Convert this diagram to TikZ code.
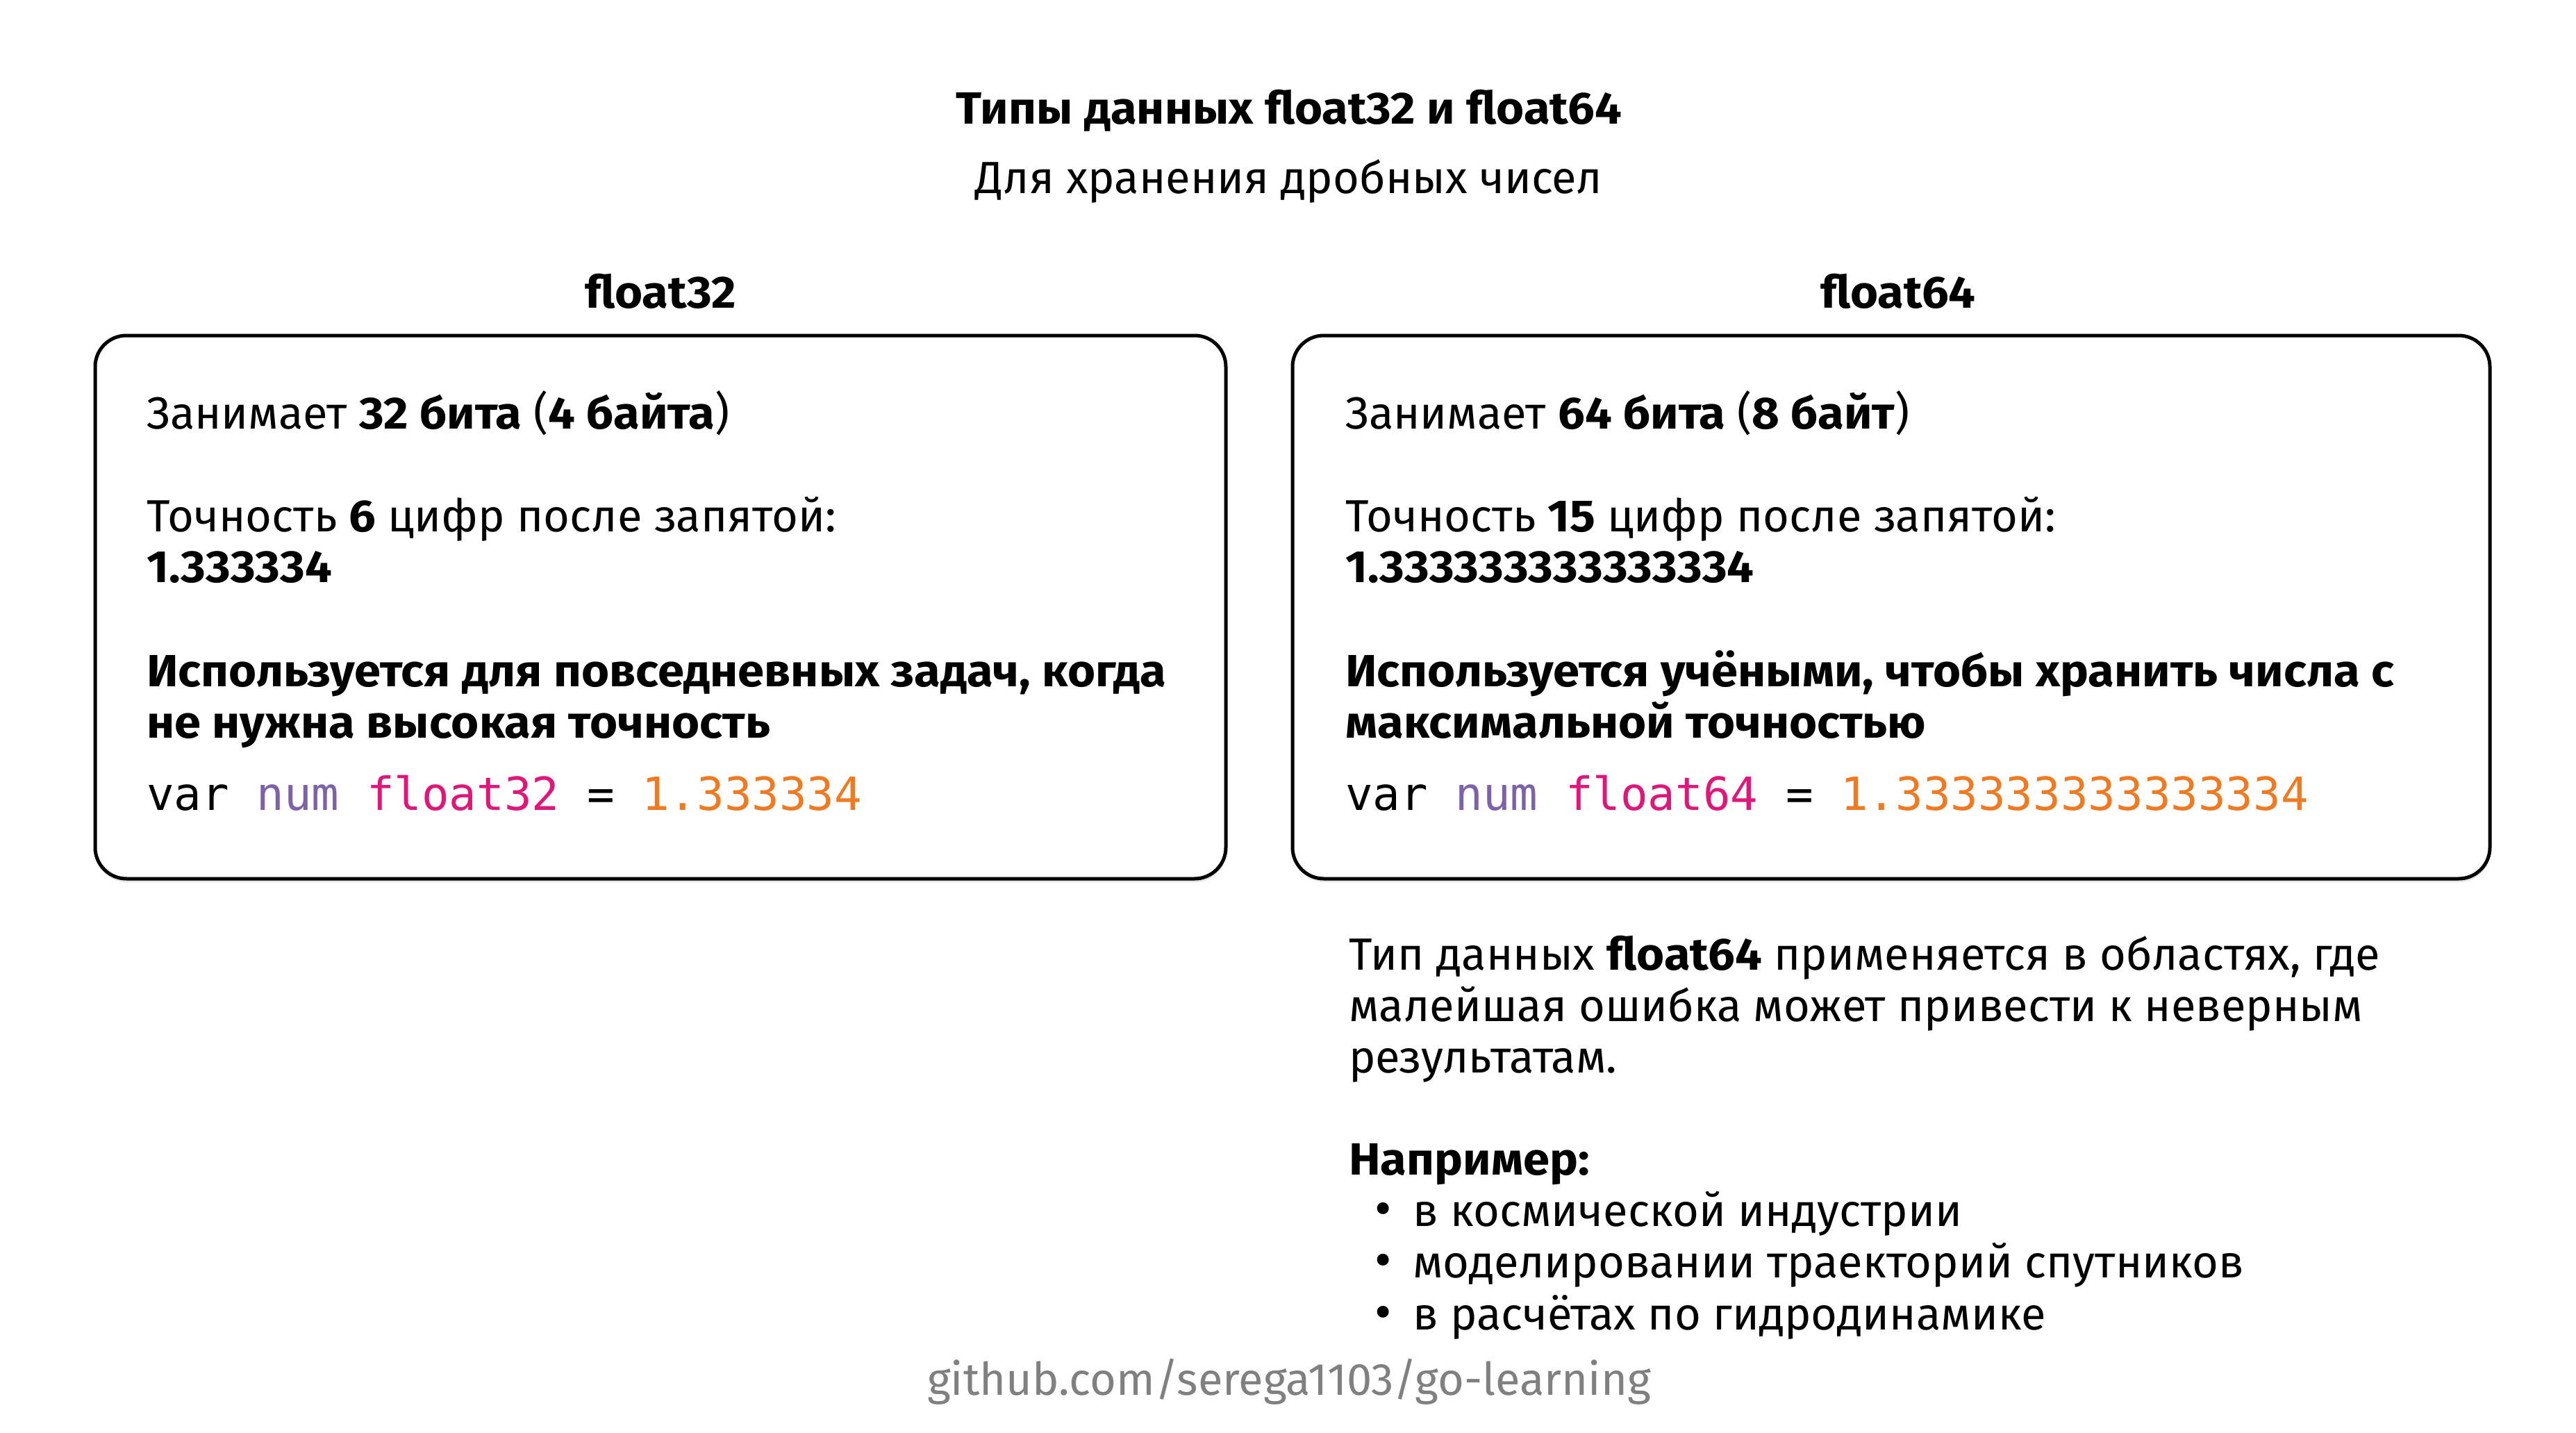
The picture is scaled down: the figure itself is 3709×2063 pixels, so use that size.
\documentclass[tikz,border=0pt]{standalone}
\usepackage{fontspec}
\setmainfont{Fira Sans}[BoldFeatures={FakeStretch=1.057}]
\setmonofont{DejaVu Sans Mono}
\usetikzlibrary{shadows}
\definecolor{kwpurple}{HTML}{7D62AA}
\definecolor{kwpink}{HTML}{E0177A}
\definecolor{kworange}{HTML}{F07A22}
\definecolor{footgray}{HTML}{808080}
\begin{document}
\begin{tikzpicture}[x=1pt,y=-1pt,
  txt/.style={anchor=base west, inner sep=0pt, font=\fontsize{65}{73}\selectfont},
  code/.style={anchor=base west, inner sep=0pt, font=\fontsize{65.8}{73}\selectfont\ttfamily},
  head/.style={anchor=base, inner sep=0pt, font=\fontsize{65}{80}\selectfont\bfseries},
  panel/.style={draw=black, line width=5pt, rounded corners=45pt, fill=white,
    drop shadow={shadow xshift=1pt, shadow yshift=-5pt, opacity=0.2}},
  bul/.style={anchor=base, inner sep=0pt, font=\fontsize{75}{73}\selectfont}]
\useasboundingbox (0,0) rectangle (3709,2063);
\fill[white] (0,0) rectangle (3709,2063);

\node[head] (title) at (1856,179) {Типы данных float32 и float64};
\node[anchor=base, inner sep=0pt, font=\fontsize{65}{80}\selectfont] (subtitle) at (1856,278) {Для хранения дробных чисел};

\node[head] (h32) at (951,443) {float32};
\node[head] (h64) at (2733,443) {float64};

\draw[panel] (137,483) rectangle (1765,1265);
\draw[panel] (1861,483) rectangle (3585,1265);

% left box
\node[txt] (l1) at (211,617) {Занимает \textbf{32 бита} (\textbf{4 байта})};
\node[txt] (l2) at (211,765) {Точность \textbf{6} цифр после запятой:};
\node[txt] (l3) at (211,838) {\textbf{1.333334}};
\node[txt] (l4) at (211,988) {\textbf{Используется для повседневных задач, когда}};
\node[txt] (l5) at (211,1062) {\textbf{не нужна высокая точность}};
\node[code] (l6) at (211,1166) {var \textcolor{kwpurple}{num} \textcolor{kwpink}{float32} = \textcolor{kworange}{1.333334}};

% right box
\node[txt] (r1) at (1937,617) {Занимает \textbf{64 бита} (\textbf{8 байт})};
\node[txt] (r2) at (1937,765) {Точность \textbf{15} цифр после запятой:};
\node[txt] (r3) at (1937,838) {\textbf{1.333333333333334}};
\node[txt] (r4) at (1937,988) {\textbf{Используется учёными, чтобы хранить числа с}};
\node[txt] (r5) at (1937,1062) {\textbf{максимальной точностью}};
\node[code] (r6) at (1937,1166) {var \textcolor{kwpurple}{num} \textcolor{kwpink}{float64} = \textcolor{kworange}{1.333333333333334}};

% below
\node[txt] (b1) at (1942,1396) {Тип данных \textbf{float64} применяется в областях, где};
\node[txt] (b2) at (1942,1470) {малейшая ошибка может привести к неверным};
\node[txt] (b3) at (1942,1544) {результатам.};
\node[txt] (b4) at (1942,1691) {\textbf{Например:}};
\node[bul] (d1) at (1992,1765) {•};
\node[txt] (e1) at (2034,1765) {в космической индустрии};
\node[bul] (d2) at (1992,1839) {•};
\node[txt] (e2) at (2034,1839) {моделировании траекторий спутников};
\node[bul] (d3) at (1992,1914) {•};
\node[txt] (e3) at (2034,1914) {в расчётах по гидродинамике};

\node[anchor=base, inner sep=0pt, text=footgray, font=\fontsize{65}{73}\selectfont] (foot) at (1856,2008) {github.com/serega1103/go-learning};
\end{tikzpicture}
\end{document}
